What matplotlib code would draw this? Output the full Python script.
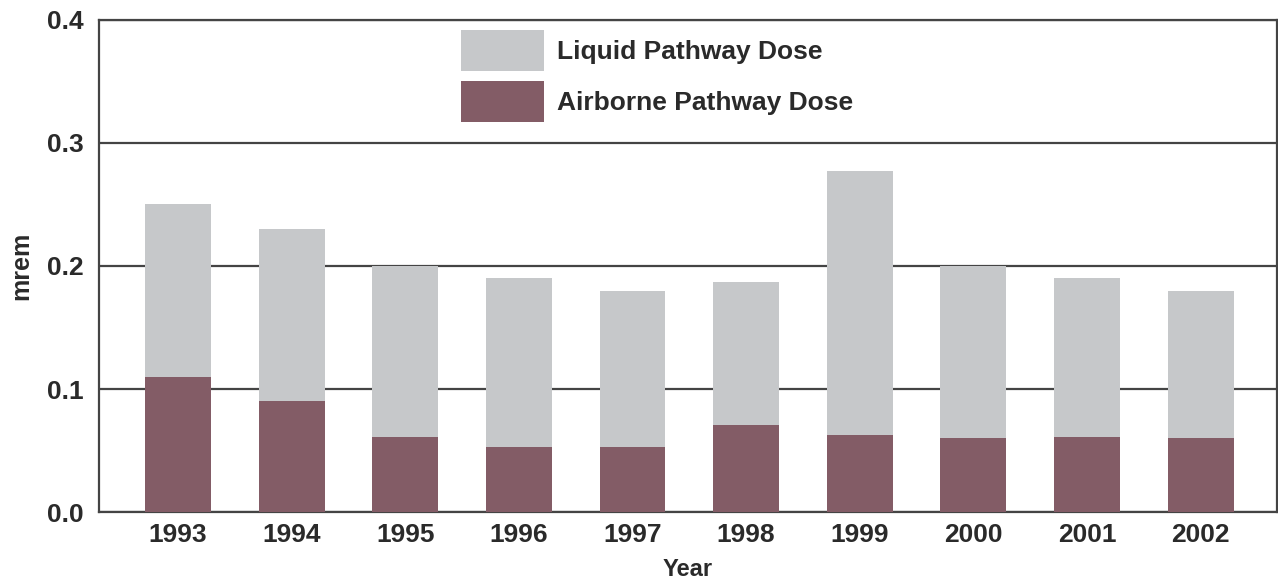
import matplotlib as mpl

mpl.use('Agg')

import matplotlib.pyplot as plt
import numpy as np
from matplotlib.patches import Patch

years = ['1993', '1994', '1995', '1996', '1997', '1998', '1999', '2000',
         '2001', '2002']
airborne = [0.110, 0.090, 0.061, 0.053, 0.053, 0.071, 0.063, 0.060, 0.061,
            0.060]
liquid = [0.140, 0.140, 0.139, 0.137, 0.127, 0.116, 0.214, 0.140, 0.129,
          0.120]
y_ticks = [0.0, 0.1, 0.2, 0.3, 0.4]

LIQUID_COLOR = '#c6c8ca'
AIR_COLOR = '#835c66'
LINE_COLOR = '#444444'
TEXT_COLOR = '#2a2a2a'


def main():
    plt.rcParams['font.family'] = ['Liberation Sans', 'DejaVu Sans']
    plt.rcParams['font.weight'] = 'bold'

    fig = plt.figure(figsize=(12.78, 5.79), dpi=100)
    ax = fig.add_axes([0.0775, 0.1157, 0.9215, 0.8498])

    x = np.arange(len(years))
    ax.bar(x, airborne, width=0.58, color=AIR_COLOR, zorder=3)
    ax.bar(x, liquid, width=0.58, bottom=airborne, color=LIQUID_COLOR,
           zorder=3)

    ax.set_xlim(-0.695, 9.67)
    ax.set_ylim(0, 0.4)
    ax.set_yticks(y_ticks)
    ax.set_yticklabels(['{0:.1f}'.format(v) for v in y_ticks])
    ax.set_xticks(x)
    ax.set_xticklabels(years)
    ax.tick_params(axis='both', length=0, labelsize=19, colors=TEXT_COLOR)
    ax.tick_params(axis='y', pad=11)
    ax.tick_params(axis='x', pad=8)

    ax.yaxis.grid(True, color=LINE_COLOR, linewidth=1.6, zorder=1)
    ax.set_axisbelow(True)
    for side in ['left', 'bottom', 'top', 'right']:
        ax.spines[side].set_color(LINE_COLOR)
        ax.spines[side].set_linewidth(1.6)

    ax.set_ylabel('mrem', fontsize=18, fontweight='bold', color=TEXT_COLOR,
                  labelpad=10)
    ax.set_xlabel('Year', fontsize=17, fontweight='bold', color=TEXT_COLOR,
                  labelpad=8)

    handles = [Patch(facecolor=LIQUID_COLOR, label='Liquid Pathway Dose'),
               Patch(facecolor=AIR_COLOR, label='Airborne Pathway Dose')]
    ax.legend(handles=handles, loc='upper left',
              bbox_to_anchor=(461 / 1278, 1 - 30 / 579),
              bbox_transform=fig.transFigure, frameon=False, borderpad=0,
              borderaxespad=0, handlelength=3.14, handleheight=2.0,
              labelspacing=0.38, handletextpad=0.49,
              prop={'size': 19, 'weight': 'bold'})
    for t in ax.get_legend().get_texts():
        t.set_color(TEXT_COLOR)

    fig.savefig('out.png', dpi=100)


if __name__ == '__main__':
    plt.close('all')
    main()
